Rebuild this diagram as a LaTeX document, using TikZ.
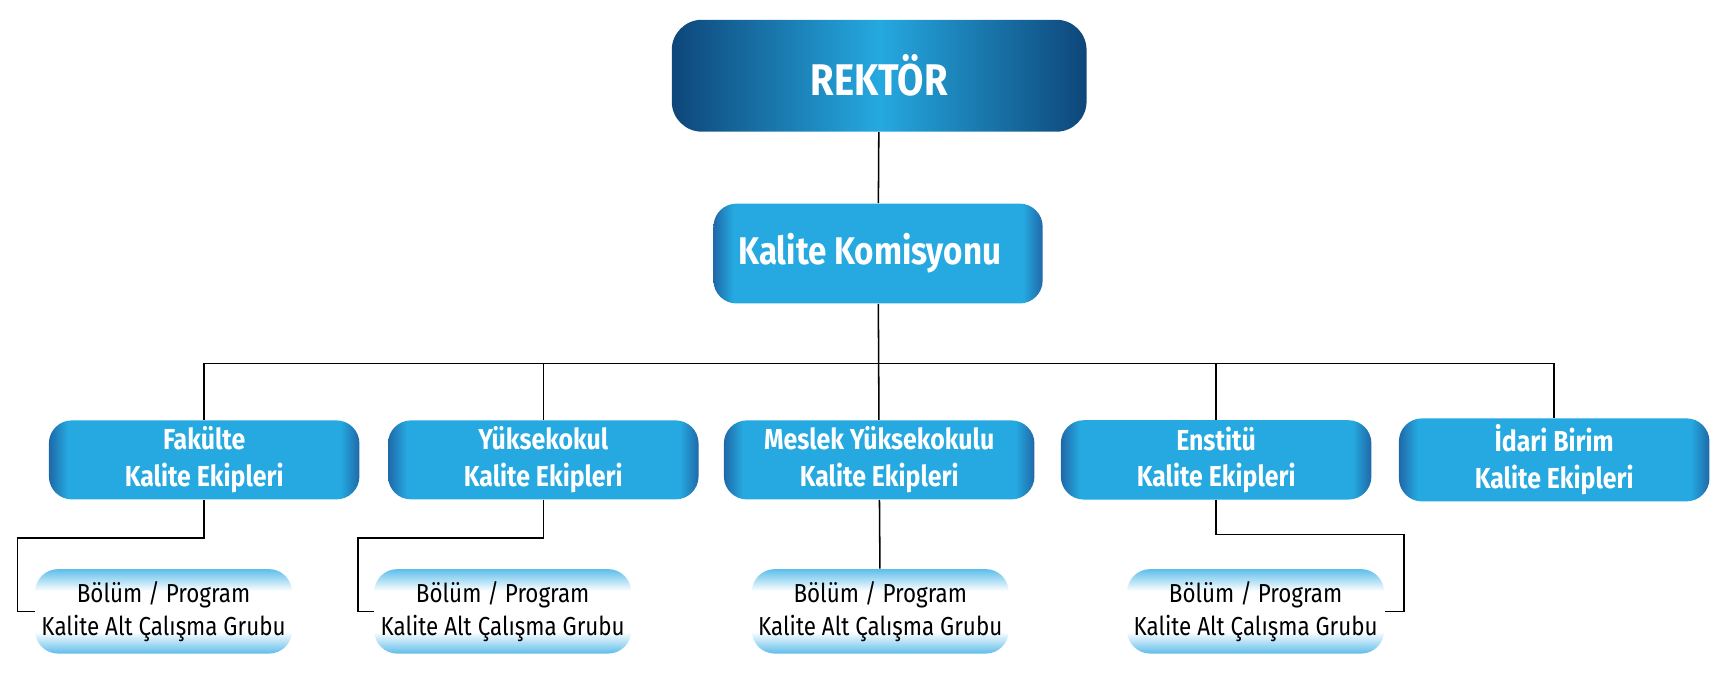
\documentclass[tikz,border=0pt]{standalone}
\usepackage{fontspec}
\setmainfont{Fira Sans}[FakeStretch=0.86]
\usetikzlibrary{positioning}
\definecolor{dkblue}{HTML}{0E4679}
\definecolor{ltblue}{HTML}{25A9E0}
\definecolor{edgeblue}{HTML}{1F68A8}
\definecolor{paleblue}{HTML}{5EBDEB}
\pgfdeclarehorizontalshading{edged}{100bp}{color(0bp)=(edgeblue); color(25bp)=(edgeblue); color(28bp)=(ltblue); color(72bp)=(ltblue); color(75bp)=(edgeblue); color(100bp)=(edgeblue)}
\pgfdeclareverticalshading{pale}{100bp}{color(0bp)=(paleblue); color(25bp)=(paleblue); color(38bp)=(white); color(62bp)=(white); color(75bp)=(paleblue); color(100bp)=(paleblue)}
\tikzset{
  head/.style={rounded corners=0.55cm, minimum width=7.56cm, minimum height=2.04cm,
    left color=dkblue, right color=dkblue, middle color=ltblue, text=white,
    font=\fontsize{23}{26}\selectfont\bfseries},
  unit/.style={rounded corners=0.42cm, shading=edged, text=white, align=center,
    font=\fontsize{15}{19}\selectfont\bfseries},
  sub/.style={rounded corners=0.42cm, shading=pale, minimum width=4.28cm,
    minimum height=1.54cm, align=center, font=\fontsize{13.5}{17}\selectfont},
  link/.style={draw=black, line width=0.8pt}
}
\begin{document}
\begin{tikzpicture}[x=0.02cm, y=-0.02cm]
    \node[head] (R) at (801,69) {REKTÖR};
    \node[unit, minimum width=6cm, minimum height=1.82cm, font=\fontsize{20}{24}\selectfont\bfseries]
        (K) at (800,231) {Kalite Komisyonu\hspace{0.3cm}};

    \node[unit, minimum width=5.66cm, minimum height=1.36cm] (F) at (186,419) {Fakülte\\Kalite Ekipleri};
    \node[unit, minimum width=5.66cm, minimum height=1.36cm] (Y) at (495,419) {Yüksekokul\\Kalite Ekipleri};
    \node[unit, minimum width=5.66cm, minimum height=1.36cm] (M) at (801,419) {Meslek Yüksekokulu\\Kalite Ekipleri};
    \node[unit, minimum width=5.66cm, minimum height=1.36cm] (E) at (1108,419) {Enstitü\\Kalite Ekipleri};
    \node[unit, minimum width=5.66cm, minimum height=1.36cm] (I) at (1416,419) {İdari Birim\\Kalite Ekipleri};

    \node[sub] (F1) at (149,557) {Bölüm / Program\\Kalite Alt Çalışma Grubu};
    \node[sub] (Y1) at (458,557) {Bölüm / Program\\Kalite Alt Çalışma Grubu};
    \node[sub] (M1) at (802,557) {Bölüm / Program\\Kalite Alt Çalışma Grubu};
    \node[sub] (E1) at (1144,557) {Bölüm / Program\\Kalite Alt Çalışma Grubu};

    \coordinate (bus) at (801,331);

    \draw[link] (R) -- (K);
    \draw[link] (K) -- (M);
    \draw[link] (F.north) |- (bus) -| (I.north);
    \draw[link] (Y.north) -- (Y.north |- bus);
    \draw[link] (E.north) -- (E.north |- bus);

    \draw[link] (F.south) |- (16,490) |- (F1.west);
    \draw[link] (Y.south) |- (326,490) |- (Y1.west);
    \draw[link] (M) -- (M1);
    \draw[link] (E.south) |- (1279,487) |- (E1.east);

    \pgfresetboundingbox
    \useasboundingbox (0,0) rectangle (1568,632);
\end{tikzpicture}
\end{document}
